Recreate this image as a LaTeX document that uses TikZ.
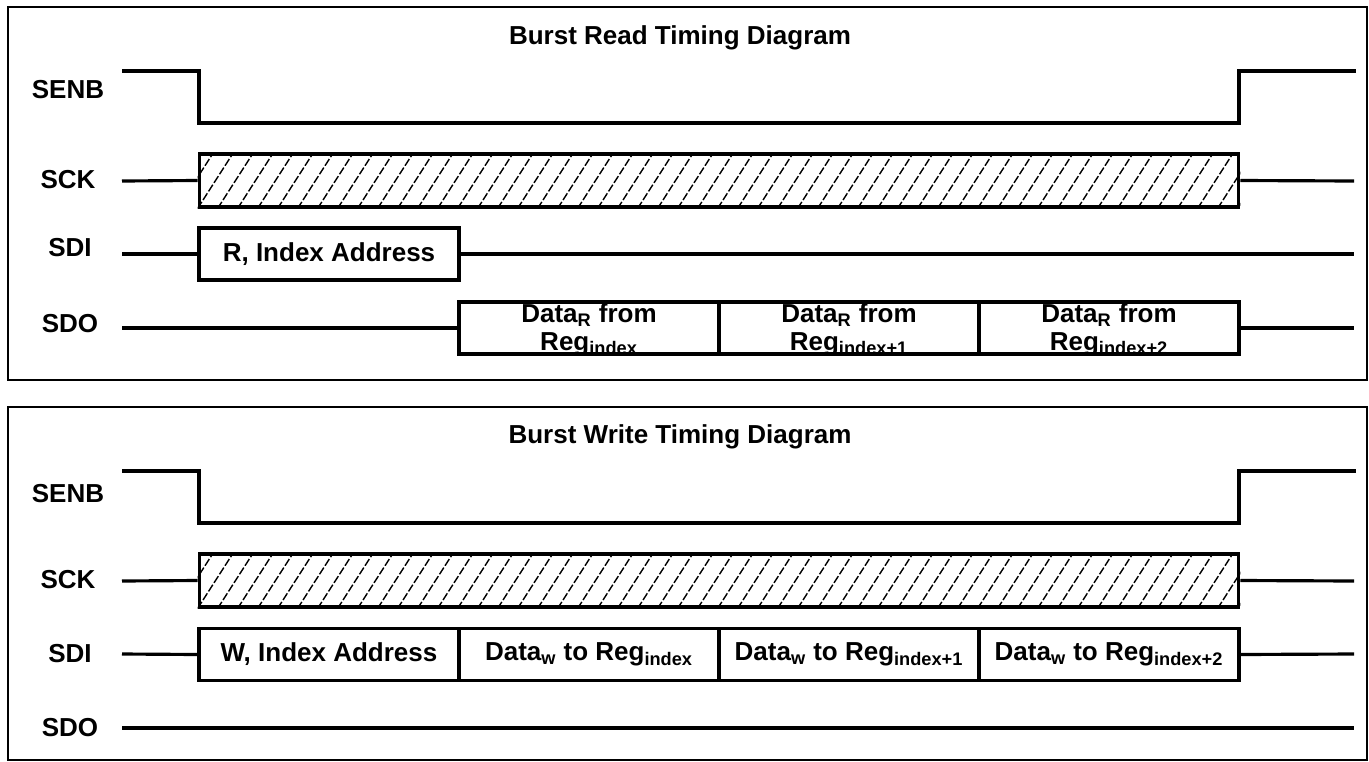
\documentclass[tikz,border=0pt]{standalone}
\usepackage{fontspec}
\setmainfont{Liberation Sans}
\usetikzlibrary{positioning,calc}
\tikzset{
  sig/.style={line width=1.8pt},
  frame/.style={line width=1.3pt},
  lbl/.style={font=\bfseries\fontsize{14.8}{17}\selectfont, inner sep=0pt},
  title/.style={font=\bfseries\fontsize{14.8}{17}\selectfont, inner sep=0pt},
  seg/.style={draw, line width=1.8pt, minimum width=5.2cm, minimum height=1.04cm,
    inner sep=0pt, align=center, font=\bfseries\fontsize{14.8}{17}\selectfont},
  segtxt/.style={inner sep=0pt, align=center, font=\bfseries\fontsize{14.8}{15.9}\selectfont},
  clk/.style={draw, line width=1.8pt, minimum width=20.8cm, minimum height=1.06cm, inner sep=0pt},
  hatch/.style={line width=0.8pt, dash pattern=on 4.5pt off 1.3pt}
}

\begin{document}
\begin{tikzpicture}[x=0.02cm, y=-0.02cm]
  \useasboundingbox (0,0) rectangle (1369,761);

  % read frame
  \draw[frame] (8,7) rectangle (1367,380);
  \node[title] (rtitle) at (680,38) {Burst Read Timing Diagram};
  \node[lbl] (rsenbL) at (68,90) {SENB};
  \node[lbl] (rsckL) at (68,180) {SCK};
  \node[lbl] (rsdiL) at (70,248) {SDI};
  \node[lbl] (rsdoL) at (70,324) {SDO};

  \draw[sig] (122,71) -- (199,71) -- (199,123) -- (1239,123) -- (1239,71) -- (1356,71);

  \node[clk] (rsck) at (719,180.5) {};
  \begin{scope}
    \clip (rsck.south west) rectangle (rsck.north east);
    \foreach \i in {-2,...,53}
      \draw[hatch] ($(rsck.south west)+(\i*20,0)$) -- ++(34,-53);
  \end{scope}
  \draw[sig] (122,181) -- (rsck.west);
  \draw[sig] (rsck.east) -- (1354,181);

  \node[seg] (raddr) at (329,254) {R, Index Address};
  \draw[sig] (122,254) -- (raddr.west);
  \draw[sig] (raddr.east) -- (1354,254);

  \node[segtxt] (rd0t) at (589,329.5) {Data\textsubscript{R} from\\Reg\textsubscript{index}};
  \node[segtxt] (rd1t) at (849,329.5) {Data\textsubscript{R} from\\Reg\textsubscript{index+1}};
  \node[segtxt] (rd2t) at (1109,329.5) {Data\textsubscript{R} from\\Reg\textsubscript{index+2}};
  \node[seg] (rd0) at (589,328) {};
  \node[seg] (rd1) at (849,328) {};
  \node[seg] (rd2) at (1109,328) {};
  \draw[sig] (122,328) -- (rd0.west);
  \draw[sig] (rd2.east) -- (1354,328);

  % write frame
  \draw[frame] (8,407) rectangle (1367,760);
  \node[title] (wtitle) at (680,437) {Burst Write Timing Diagram};
  \node[lbl] (wsenbL) at (68,494) {SENB};
  \node[lbl] (wsckL) at (68,580) {SCK};
  \node[lbl] (wsdiL) at (70,654) {SDI};
  \node[lbl] (wsdoL) at (70,728) {SDO};

  \draw[sig] (122,471) -- (199,471) -- (199,523) -- (1239,523) -- (1239,471) -- (1356,471);

  \node[clk] (wsck) at (719,580.5) {};
  \begin{scope}
    \clip (wsck.south west) rectangle (wsck.north east);
    \foreach \i in {-2,...,53}
      \draw[hatch] ($(wsck.south west)+(\i*20,0)$) -- ++(34,-53);
  \end{scope}
  \draw[sig] (122,581) -- (wsck.west);
  \draw[sig] (wsck.east) -- (1354,581);

  \node[seg] (waddr) at (329,654.5) {W, Index Address};
  \node[seg] (wd0) at (589,654.5) {Data\textsubscript{w} to Reg\textsubscript{index}};
  \node[seg] (wd1) at (849,654.5) {Data\textsubscript{w} to Reg\textsubscript{index+1}};
  \node[seg] (wd2) at (1109,654.5) {Data\textsubscript{w} to Reg\textsubscript{index+2}};
  \draw[sig] (122,654) -- (waddr.west);
  \draw[sig] (wd2.east) -- (1354,654);

  \draw[sig] (122,728) -- (1354,728);
\end{tikzpicture}
\end{document}
